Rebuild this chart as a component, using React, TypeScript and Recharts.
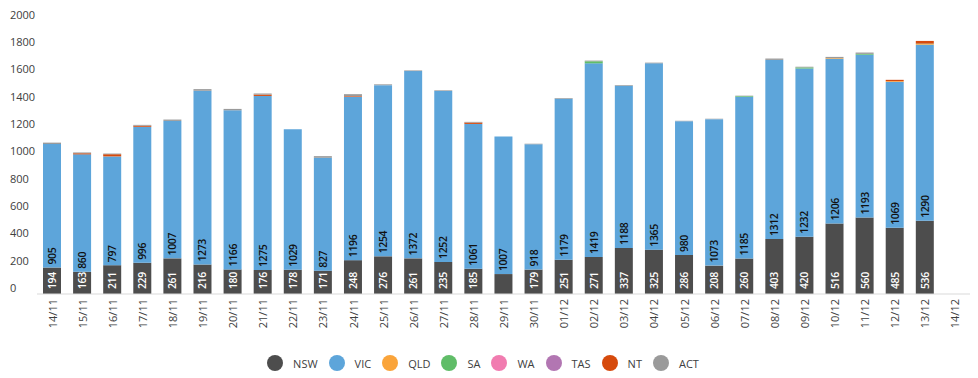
import React from 'react';
import { BarChart, Bar, XAxis, YAxis, Legend, LabelList } from 'recharts';

const dates = [
  '14/11', '15/11', '16/11', '17/11', '18/11', '19/11', '20/11', '21/11', '22/11', '23/11',
  '24/11', '25/11', '26/11', '27/11', '28/11', '29/11', '30/11', '01/12', '02/12', '03/12',
  '04/12', '05/12', '06/12', '07/12', '08/12', '09/12', '10/12', '11/12', '12/12', '13/12', '14/12',
];

const nsw = [194, 163, 211, 229, 261, 216, 180, 176, 178, 171, 248, 276, 261, 235, 185, 146, 179, 251, 271, 337, 325, 286, 208, 260, 403, 420, 516, 560, 485, 536, null];
const vic = [905, 860, 797, 996, 1007, 1273, 1166, 1275, 1029, 827, 1196, 1254, 1372, 1252, 1061, 1007, 918, 1179, 1419, 1188, 1365, 980, 1073, 1185, 1312, 1232, 1206, 1193, 1069, 1290, null];
const qld = [0, 0, 0, 0, 0, 0, 0, 0, 0, 0, 0, 0, 0, 0, 0, 0, 0, 0, 0, 0, 0, 0, 0, 0, 0, 0, 5, 0, 5, 5, null];
const sa = [0, 0, 0, 0, 0, 0, 0, 0, 0, 0, 0, 0, 0, 0, 0, 0, 0, 0, 15, 0, 0, 0, 0, 5, 0, 8, 0, 6, 0, 3, null];
const wa = [0, 0, 0, 0, 0, 0, 0, 0, 0, 0, 0, 0, 0, 0, 0, 0, 0, 0, 0, 0, 0, 0, 0, 0, 0, 0, 0, 0, 0, 0, null];
const tas = [0, 0, 0, 0, 0, 0, 0, 0, 0, 0, 0, 0, 0, 0, 0, 0, 0, 0, 0, 0, 0, 0, 0, 0, 0, 0, 0, 0, 0, 0, null];
const nt = [0, 8, 16, 8, 0, 0, 0, 10, 0, 0, 5, 0, 0, 0, 10, 0, 0, 0, 0, 0, 0, 0, 0, 0, 0, 0, 0, 0, 10, 20, null];
const act = [10, 6, 5, 6, 10, 12, 10, 8, 0, 12, 15, 6, 5, 5, 5, 0, 4, 5, 5, 5, 5, 3, 3, 3, 10, 5, 10, 10, 0, 0, null];

const yTicks = [0, 200, 400, 600, 800, 1000, 1200, 1400, 1600, 1800, 2000];

// no NSW label drawn on this day in the source
const nswLabelHidden = ['29/11'];

const series = [
  { key: 'nsw', name: 'NSW', color: '#4d4d4d' },
  { key: 'vic', name: 'VIC', color: '#5da5da' },
  { key: 'qld', name: 'QLD', color: '#faa43a' },
  { key: 'sa', name: 'SA', color: '#60bd68' },
  { key: 'wa', name: 'WA', color: '#f17cb0' },
  { key: 'tas', name: 'TAS', color: '#b276b2' },
  { key: 'nt', name: 'NT', color: '#d64a0c' },
  { key: 'act', name: 'ACT', color: '#9a9a9a' },
];

const data = dates.map((date, i) => ({
  date,
  nsw: nsw[i],
  vic: vic[i],
  qld: qld[i],
  sa: sa[i],
  wa: wa[i],
  tas: tas[i],
  nt: nt[i],
  act: act[i],
}));

const FONT = '"Open Sans", sans-serif';

const YTick = ({ y, payload }: any) => (
  <text x={10} y={y - 6} dy="0.35em" fontSize={11} fill="#404040" fontFamily={FONT}>
    {payload.value}
  </text>
);

const XTick = ({ x, y, payload }: any) => (
  <text
    x={x}
    y={y + 3}
    transform={`rotate(-90, ${x}, ${y + 3})`}
    textAnchor="end"
    dominantBaseline="central"
    fontSize={11}
    fill="#404040"
    fontFamily={FONT}
  >
    {payload.value}
  </text>
);

const makeLabel = (fill: string, offset: number, hidden: string[] = []) => (props: any) => {
  const { x, y, width, height, value, index } = props;
  if (value == null || hidden.includes(dates[index])) return null;
  const cx = Number(x) + Number(width) / 2;
  const by = Number(y) + Number(height) - offset;
  return (
    <text
      x={cx}
      y={by}
      transform={`rotate(-90, ${cx}, ${by})`}
      textAnchor="start"
      dominantBaseline="central"
      fontSize={10.5}
      fontWeight={600}
      letterSpacing={-0.4}
      fill={fill}
      fontFamily={FONT}
    >
      {value}
    </text>
  );
};

const renderLegend = () => (
  <div
    style={{
      display: 'flex',
      justifyContent: 'center',
      alignItems: 'flex-start',
      height: 38,
      boxSizing: 'border-box',
      paddingTop: 15,
      paddingLeft: 7,
      fontFamily: FONT,
      fontSize: 11,
      color: '#404040',
    }}
  >
    {series.map((s) => (
      <div key={s.key} style={{ display: 'flex', alignItems: 'center', marginRight: 11, height: 16 }}>
        <span
          style={{ width: 16, height: 16, borderRadius: '50%', background: s.color, marginRight: 10, display: 'inline-block' }}
        />
        {s.name}
      </div>
    ))}
  </div>
);

export default function App() {
  return (
    <div style={{ position: 'absolute', left: 0, top: 0, background: '#fff' }}>
      <BarChart
        width={978}
        height={378}
        data={data}
        margin={{ top: 21, right: 8, left: 0, bottom: 0 }}
        barSize={18}
      >
        <XAxis
          dataKey="date"
          interval={0}
          height={46}
          tickLine={false}
          tickSize={0}
          axisLine={{ stroke: '#d9d9d9' }}
          tick={<XTick />}
        />
        <YAxis
          width={37}
          domain={[0, 2000]}
          ticks={yTicks}
          interval={0}
          axisLine={false}
          tickLine={false}
          tick={<YTick />}
        />
        <Legend verticalAlign="bottom" content={renderLegend} />
        {series.map((s) => (
          <Bar key={s.key} dataKey={s.key} name={s.name} stackId="a" fill={s.color} isAnimationActive={false}>
            {s.key === 'nsw' && <LabelList dataKey="nsw" content={makeLabel('#ffffff', 5, nswLabelHidden)} />}
            {s.key === 'vic' && <LabelList dataKey="vic" content={makeLabel('#111111', 3)} />}
          </Bar>
        ))}
      </BarChart>
    </div>
  );
}
